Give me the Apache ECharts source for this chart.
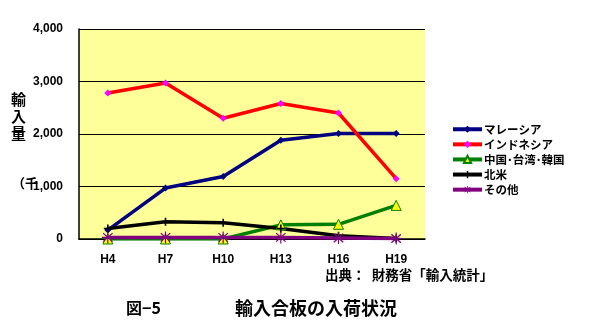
<!DOCTYPE html>
<html><head><meta charset="utf-8">
<script src="https://cdn.jsdelivr.net/npm/echarts@6/dist/echarts.min.js"></script>
<style>html,body{margin:0;padding:0;background:#fff}#c{width:606px;height:334px}</style>
</head><body><div id="c"></div>
<script>
const categories = ['H4','H7','H10','H13','H16','H19'];
const malaysia = [170, 970, 1190, 1880, 2010, 2010];
const indonesia = [2780, 2970, 2300, 2580, 2400, 1150];
const chinaTaiwanKorea = [0, 0, 0, 270, 280, 640];
const northAmerica = [200, 330, 310, 200, 60, 10];
const others = [30, 30, 30, 30, 20, 10];
const yTicks = [0, 1000, 2000, 3000, 4000];

const F = '"Liberation Sans", Arial, sans-serif';
const J = '"Noto Sans CJK JP", sans-serif';
const asterisk = 'path://M4.5,0L5.5,0L5.5,3.8L8.6,1.1L9.3,1.8L6.3,4.5L10,4.5L10,5.5L6.3,5.5L9.3,8.2L8.6,8.9L5.5,6.2L5.5,10L4.5,10L4.5,6.2L1.4,8.9L0.7,8.2L3.7,5.5L0,5.5L0,4.5L3.7,4.5L0.7,1.8L1.4,1.1L4.5,3.8Z';
const plus = 'path://M4,0L6,0L6,4L10,4L10,6L6,6L6,10L4,10L4,6L0,6L0,4L4,4Z';

function s(name, data, color, symbol, size, mcolor, border) {
  return {
    name, type: 'line', data, symbol, symbolSize: size,
    lineStyle: {color, width: 3.5},
    itemStyle: {color: mcolor, borderColor: border || mcolor, borderWidth: border ? 1 : 0},
    emphasis: {disabled: true}
  };
}
const chart = echarts.init(document.getElementById('c'));
chart.setOption({
  animation: false,
  grid: {left: 79, top: 29, width: 346, height: 210, backgroundColor: '#FFFF99', show: true, borderWidth: 0},
  xAxis: {
    type: 'category', data: categories, boundaryGap: true,
    axisLine: {lineStyle: {color: '#000', width: 1.5}},
    axisTick: {show: false},
    axisLabel: {color: '#000', fontFamily: F, fontWeight: 'bold', fontSize: 12, margin: 15}
  },
  yAxis: {
    type: 'value', min: 0, max: 4000, interval: 1000,
    axisLine: {show: true, lineStyle: {color: '#000', width: 1.5}},
    axisTick: {show: false},
    splitLine: {lineStyle: {color: '#000', width: 1}},
    axisLabel: {color: '#000', fontFamily: F, fontWeight: 'bold', fontSize: 12, margin: 16,
      formatter: v => yTicks.includes(v) ? v.toLocaleString('en-US') : ''}
  },
  legend: {
    orient: 'vertical', left: 446, top: 118.5, itemWidth: 29, itemHeight: 9, itemGap: 3.6,
    lineStyle: {width: 4},
    textStyle: {fontFamily: J, fontWeight: 'bold', fontSize: 11.5, color: '#000', padding: [0, 0, 0, -3]},
    data: ['マレーシア','インドネシア','中国･台湾･韓国','北米','その他']
  },
  series: [
    s('マレーシア', malaysia, '#000080', 'diamond', 7, '#000080'),
    s('インドネシア', indonesia, '#FF0000', 'diamond', 7, '#FF00FF'),
    s('中国･台湾･韓国', chinaTaiwanKorea, '#008000', 'triangle', 10, '#FFFF00', '#008000'),
    s('北米', northAmerica, '#000000', plus, 8, '#000000'),
    s('その他', others, '#800080', asterisk, 12, '#800080')
  ],
  graphic: [
    {type: 'text', left: 11, top: 91, style: {text: '輸\n入\n量', font: 'bold 15px "Noto Sans CJK JP"', fill: '#000', lineHeight: 17}},
    {type: 'text', left: 12, top: 177, style: {text: '（千', font: 'bold 13px "Noto Sans CJK JP"', fill: '#000'}},
    {type: 'text', left: 325, top: 268, style: {text: '出典：  財務省「輸入統計」', font: 'bold 13.5px "Noto Sans CJK JP"', fill: '#000'}},
    {type: 'text', left: 126, top: 300, style: {text: '図−5', font: 'bold 16px "Noto Sans CJK JP"', fill: '#000'}},
    {type: 'text', left: 235, top: 299, style: {text: '輸入合板の入荷状況', font: 'bold 18px "Noto Sans CJK JP"', fill: '#000'}}
  ]
});
</script></body></html>
